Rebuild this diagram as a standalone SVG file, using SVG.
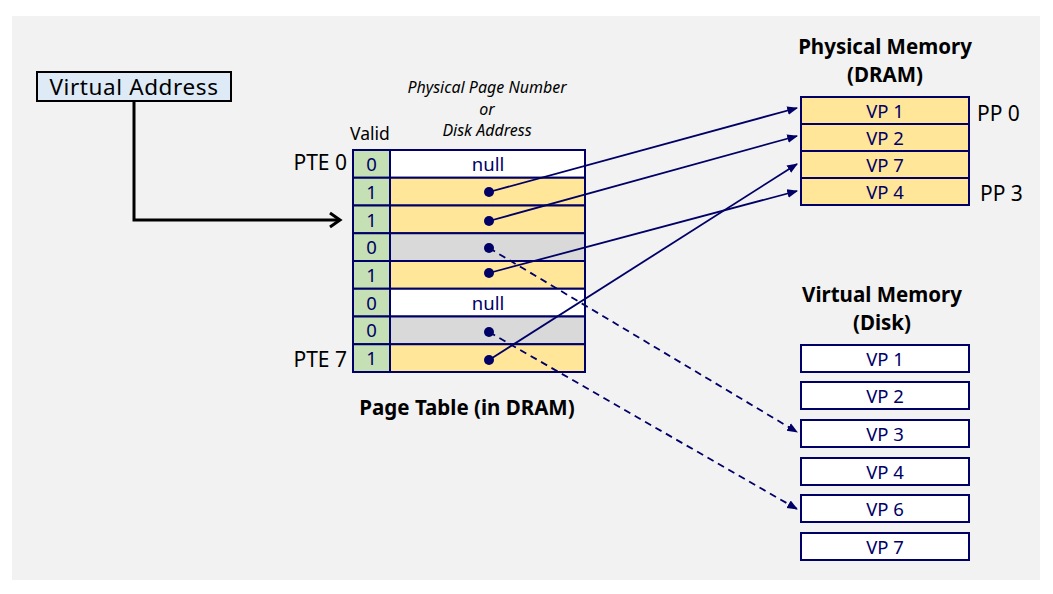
<svg xmlns="http://www.w3.org/2000/svg" width="1053" height="594" viewBox="0 0 1053 594">
<defs>
<style>
text{font-family:"Noto Sans","Open Sans","DejaVu Sans",sans-serif;}
.lbl{fill:#000;font-size:21px;}
.ttl{fill:#000;font-size:20.5px;font-weight:bold;text-anchor:middle;}
.it{fill:#000;font-size:16px;font-style:italic;text-anchor:middle;}
.nt{fill:#000066;font-size:18.5px;text-anchor:middle;}
.cell{stroke:#000066;stroke-width:2;}
.g{fill:#c5e0b4;}.y{fill:#ffe699;}.gr{fill:#d9d9d9;}.w{fill:#ffffff;}
.ln{stroke:#000066;stroke-width:1.8;fill:none;marker-end:url(#ah);}
.dl{stroke-dasharray:7 5;}
.dot{fill:#000066;}
</style>
<marker id="ah" viewBox="0 0 10 10" refX="9" refY="5" markerWidth="6" markerHeight="6" orient="auto" markerUnits="strokeWidth">
<path d="M0,1 L10,5 L0,9 z" fill="#000066"/>
</marker>
</defs>
<rect x="0" y="0" width="1053" height="594" fill="#ffffff"/>
<rect x="12" y="16" width="1028" height="564" fill="#f2f2f2"/>

<g id="virtual-address">
<rect x="37" y="72" width="194" height="29" fill="#deebf7" stroke="#000" stroke-width="2"/>
<text x="134" y="95" font-size="22.5" text-anchor="middle" fill="#000" letter-spacing="0.6">Virtual Address</text>
</g>

<g id="page-table">
<text class="it" x="487" y="93">Physical Page Number</text>
<text class="it" x="487" y="115">or</text>
<text class="it" x="487" y="136">Disk Address</text>
<text x="370" y="140" font-size="17.5" text-anchor="middle" fill="#000">Valid</text>
<text class="lbl" x="347" y="170" text-anchor="end">PTE 0</text>
<text class="lbl" x="347" y="367" text-anchor="end">PTE 7</text>
<rect class="cell g" x="353" y="150" width="37" height="27.75"/>
<rect class="cell w" x="390" y="150" width="195" height="27.75"/>
<rect class="cell g" x="353" y="177.75" width="37" height="27.75"/>
<rect class="cell y" x="390" y="177.75" width="195" height="27.75"/>
<rect class="cell g" x="353" y="205.5" width="37" height="27.75"/>
<rect class="cell y" x="390" y="205.5" width="195" height="27.75"/>
<rect class="cell g" x="353" y="233.25" width="37" height="27.75"/>
<rect class="cell gr" x="390" y="233.25" width="195" height="27.75"/>
<rect class="cell g" x="353" y="261" width="37" height="27.75"/>
<rect class="cell y" x="390" y="261" width="195" height="27.75"/>
<rect class="cell g" x="353" y="288.75" width="37" height="27.75"/>
<rect class="cell w" x="390" y="288.75" width="195" height="27.75"/>
<rect class="cell g" x="353" y="316.5" width="37" height="27.75"/>
<rect class="cell gr" x="390" y="316.5" width="195" height="27.75"/>
<rect class="cell g" x="353" y="344.25" width="37" height="27.75"/>
<rect class="cell y" x="390" y="344.25" width="195" height="27.75"/>
<text class="nt" x="371.5" y="171">0</text>
<text class="nt" x="371.5" y="198.5">1</text>
<text class="nt" x="371.5" y="226.5">1</text>
<text class="nt" x="371.5" y="254">0</text>
<text class="nt" x="371.5" y="282">1</text>
<text class="nt" x="371.5" y="309.5">0</text>
<text class="nt" x="371.5" y="337">0</text>
<text class="nt" x="371.5" y="365">1</text>
<text class="nt" x="488" y="170.5">null</text>
<text class="nt" x="488" y="309.5">null</text>
<circle class="dot" cx="489" cy="192" r="5"/>
<circle class="dot" cx="489" cy="221" r="5"/>
<circle class="dot" cx="489" cy="248" r="5"/>
<circle class="dot" cx="489" cy="273" r="5"/>
<circle class="dot" cx="489" cy="332" r="5"/>
<circle class="dot" cx="489" cy="360" r="5"/>
<text class="ttl" x="467" y="415">Page Table (in DRAM)</text>
</g>

<g id="physical-memory">
<text class="ttl" x="885" y="54">Physical Memory</text>
<text class="ttl" x="885" y="82">(DRAM)</text>
<rect class="cell y" x="801" y="97" width="168" height="27"/>
<rect class="cell y" x="801" y="124" width="168" height="27"/>
<rect class="cell y" x="801" y="151" width="168" height="27"/>
<rect class="cell y" x="801" y="178" width="168" height="27"/>
<text class="nt" x="885" y="117.5">VP 1</text>
<text class="nt" x="885" y="144.5">VP 2</text>
<text class="nt" x="885" y="171.5">VP 7</text>
<text class="nt" x="885" y="198.5">VP 4</text>
<text class="lbl" x="977" y="121">PP 0</text>
<text class="lbl" x="980" y="201">PP 3</text>
</g>

<g id="virtual-memory">
<text class="ttl" x="882" y="302">Virtual Memory</text>
<text class="ttl" x="882" y="330">(Disk)</text>
<rect class="cell w" x="801" y="345" width="168" height="27"/>
<rect class="cell w" x="801" y="382" width="168" height="27"/>
<rect class="cell w" x="801" y="420" width="168" height="27"/>
<rect class="cell w" x="801" y="458" width="168" height="27"/>
<rect class="cell w" x="801" y="495" width="168" height="27"/>
<rect class="cell w" x="801" y="533" width="168" height="27"/>
<text class="nt" x="885" y="365.5">VP 1</text>
<text class="nt" x="885" y="402.5">VP 2</text>
<text class="nt" x="885" y="440.5">VP 3</text>
<text class="nt" x="885" y="478.5">VP 4</text>
<text class="nt" x="885" y="515.5">VP 6</text>
<text class="nt" x="885" y="553.5">VP 7</text>
</g>

<g id="connectors">
<polyline points="134,101 134,220 338,220" fill="none" stroke="#000" stroke-width="3"/>
<polyline points="330,213 340,220 330,227" fill="none" stroke="#000" stroke-width="3"/>
<line class="ln" x1="489" y1="192" x2="797" y2="108"/>
<line class="ln" x1="489" y1="221" x2="797" y2="136"/>
<line class="ln" x1="489" y1="273" x2="797" y2="191"/>
<line class="ln" x1="489" y1="360" x2="797" y2="164"/>
<line class="ln dl" x1="489" y1="248" x2="797" y2="432"/>
<line class="ln dl" x1="489" y1="332" x2="797" y2="509"/>
</g>
</svg>
